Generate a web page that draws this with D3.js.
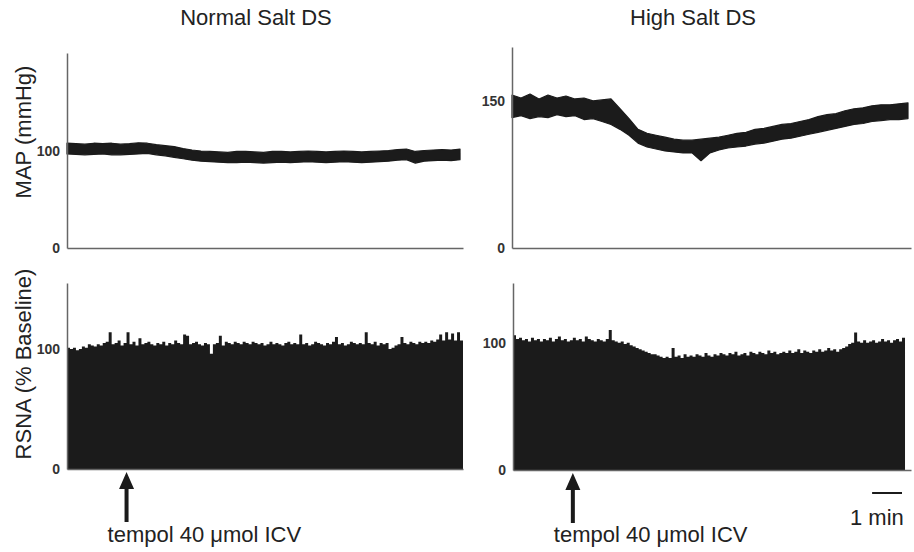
<!DOCTYPE html>
<html>
<head>
  <meta charset="utf-8">
  <script src="https://d3js.org/d3.v7.min.js"></script>
  <style>
    body { margin: 0; background: #fff; }
    svg text { font-family: "Liberation Sans", Arial, sans-serif; fill: #222; }
    .big { font-size: 22px; }
    .tick text { font-size: 14px; font-weight: bold; fill: #333; font-family: "Liberation Sans", Arial, sans-serif; }
    .domain { stroke: #666; stroke-width: 1.5; }
  </style>
</head>
<body>
<div id="chartContainer"></div>
<script>
// groups / labels
var groups = ["Normal Salt DS", "High Salt DS"];
var mapLabel = "MAP (mmHg)";
var rsnaLabel = "RSNA (% Baseline)";
var noteText = "tempol 40 \u03bcmol ICV";
var scaleText = "1 min";

// time
var totalMin = 13.3;   // length of each recording shown, minutes
var tempolMin = 2.0;   // injection time
var mapStep = 0.3;     // minutes per MAP sample
var rsnaStep = 0.1;    // minutes per RSNA bin

// y ticks
var mapTicksNormal = [0, 100];
var mapTicksHigh = [0, 150];
var rsnaTicks = [0, 100];
var mapMaxNormal = 201, mapMaxHigh = 205, rsnaMaxNormal = 155, rsnaMaxHigh = 147;

// MAP envelope (upper / lower edge of the pulsatile band), mmHg
var mapNormalHi = [108,107.5,107,108,107.5,108,107,107.5,108.5,108,
  106.5,105.5,104.5,102.5,101,100,99.5,99,98.5,99.5,
  99.5,99,98.5,99.5,99.5,99,99.5,100,99.5,99,
  99.5,100,99.5,99,99.5,100,100.5,101.5,102,99.5,
  100.5,101,101.5,101,102];
var mapNormalLo = [97,96.5,96,96.5,97,96,96,96.5,97,97.5,
  96,95,93.5,92,90.5,89.5,89,88.5,88,88,
  88.5,88,87.5,88,88.5,88,88.5,89,88.5,88,
  88.5,89,88.5,88,88.5,89,89.5,90.5,91,87.5,
  89.5,90,90.5,90,91];
var mapHighHi = [156,153,157,152,156,153,155,152,153,150,
  151,152,142,132,121,117,115,113,111,110,
  110,111,112,113,115,117,118,121,122,124,
  126,127,129,131,134,136,137,140,142,143,
  145,146,146,147,148];
var mapHighLo = [133,135,132,134,133,136,134,135,131,132,
  129,126,121,115,107,103,101,99,98,97,
  97,89,97,100,102,103,104,106,107,109,
  111,112,114,116,118,120,122,124,126,127,
  129,130,131,131,132];

// RSNA, % baseline, one value per bin
var rsnaNormal = [101,100,101,99,100,102,101,104,103,102,
  104,103,105,106,114,104,105,107,103,105,
  114,104,106,103,109,104,105,106,104,103,
  105,104,106,103,105,104,107,105,104,112,
  111,104,105,106,104,103,105,104,96,104,
  105,111,103,106,105,104,106,105,104,106,
  105,104,106,105,104,105,103,104,106,104,
  105,104,103,105,106,104,105,104,112,104,
  105,103,104,106,105,104,103,105,104,106,
  110,104,105,103,104,106,105,104,105,104,
  114,105,104,106,103,105,104,105,100,101,
  103,104,110,105,104,106,105,104,106,105,
  106,105,107,106,108,112,107,114,108,113,
  107,114,107];
var rsnaHigh = [106,103,104,102,103,101,104,102,103,101,
  103,102,104,101,103,105,102,103,101,102,
  104,102,103,101,105,103,102,101,103,102,
  101,103,110,102,101,100,101,99,100,98,
  97,96,95,94,93,92,91,91,90,89,
  88,89,88,96,89,90,88,91,89,90,
  89,91,90,89,92,90,89,91,90,92,
  91,90,92,91,93,90,91,92,90,93,
  92,91,93,92,91,94,92,93,91,92,
  93,92,94,92,93,95,92,94,93,92,
  94,93,95,93,94,96,94,95,93,95,
  96,97,99,100,108,101,100,102,100,101,
  102,100,101,103,101,102,100,102,103,101,
  104];

var W = 914, H = 552;
var ink = "#1b1b1b";

var svg = d3.select("#chartContainer").append("svg")
  .attr("width", W).attr("height", H);

// panel boxes
var panels = [
  {x0: 67, x1: 463, top: 53, bottom: 248, max: mapMaxNormal, ticks: mapTicksNormal, hi: mapNormalHi, lo: mapNormalLo},
  {x0: 512, x1: 911, top: 47, bottom: 248, max: mapMaxHigh, ticks: mapTicksHigh, hi: mapHighHi, lo: mapHighLo},
  {x0: 67, x1: 463, top: 283, bottom: 469, max: rsnaMaxNormal, ticks: rsnaTicks, rsna: rsnaNormal},
  {x0: 513, x1: 911, top: 283, bottom: 470, max: rsnaMaxHigh, ticks: rsnaTicks, rsna: rsnaHigh}
];

panels.forEach(function (p, k) {
  var x = d3.scaleLinear().domain([0, totalMin]).range([p.x0, p.x1]);
  var y = d3.scaleLinear().domain([0, p.max]).range([p.bottom, p.top]);
  p.x = x; p.y = y;
  var g = svg.append("g");

  if (p.hi) {
    var band = p.hi.map(function (h, i) { return {t: i * mapStep, hi: h, lo: p.lo[i]}; });
    var area = d3.area()
      .x(function (d) { return x(d.t); })
      .y0(function (d) { return y(d.lo); })
      .y1(function (d) { return y(d.hi); });
    g.append("path").datum(band)
      .attr("d", area)
      .attr("fill", ink)
      .attr("stroke", ink)
      .attr("stroke-width", 1.2)
      .attr("stroke-linejoin", "round");
  } else {
    // one closed outline for the binned activity so no seams between bins
    var d = "M" + x(0) + "," + y(0);
    p.rsna.forEach(function (v, i) {
      d += "V" + y(v) + "H" + x((i + 1) * rsnaStep);
    });
    d += "V" + y(0) + "Z";
    g.append("path").attr("d", d).attr("fill", ink);
  }

  // axes: plain lines with bold labels, no tick marks
  svg.append("g")
    .attr("transform", "translate(" + p.x0 + ",0)")
    .call(d3.axisLeft(y).tickValues(p.ticks).tickSize(0).tickSizeOuter(0).tickPadding(7))
    .call(function (a) { a.selectAll(".tick line").remove(); });
  svg.append("g")
    .attr("transform", "translate(0," + p.bottom + ")")
    .call(d3.axisBottom(x).tickValues([]).tickSizeOuter(0));
});

// column titles
svg.append("text").attr("class", "big")
  .attr("x", 256).attr("y", 25).attr("text-anchor", "middle").text(groups[0]);
svg.append("text").attr("class", "big")
  .attr("x", 693).attr("y", 25).attr("text-anchor", "middle").text(groups[1]);

// y titles
svg.append("text").attr("class", "big")
  .attr("transform", "translate(31,132) rotate(-90)")
  .attr("text-anchor", "middle").text(mapLabel);
svg.append("text").attr("class", "big")
  .attr("transform", "translate(31,364) rotate(-90)")
  .attr("text-anchor", "middle").text(rsnaLabel);

// tempol arrows
[panels[2], panels[3]].forEach(function (p) {
  var ax = p.x(tempolMin);
  var tip = p.bottom + 3;
  svg.append("path")
    .attr("d", "M" + ax + "," + tip +
      " L" + (ax + 7.5) + "," + (tip + 17) +
      " L" + (ax + 2) + "," + (tip + 17) +
      " L" + (ax + 2) + "," + (tip + 50) +
      " L" + (ax - 2) + "," + (tip + 50) +
      " L" + (ax - 2) + "," + (tip + 17) +
      " L" + (ax - 7.5) + "," + (tip + 17) + " Z")
    .attr("fill", ink);
  svg.append("text").attr("class", "big")
    .attr("x", ax - 19).attr("y", 542).text(noteText);
});

// 1 min scale bar
var sx = panels[3].x;
svg.append("line")
  .attr("x1", sx(12.0)).attr("x2", sx(13.0))
  .attr("y1", 493).attr("y2", 493)
  .attr("stroke", ink).attr("stroke-width", 2);
svg.append("text").attr("class", "big")
  .attr("x", 850).attr("y", 525).text(scaleText);
</script>
</body>
</html>
